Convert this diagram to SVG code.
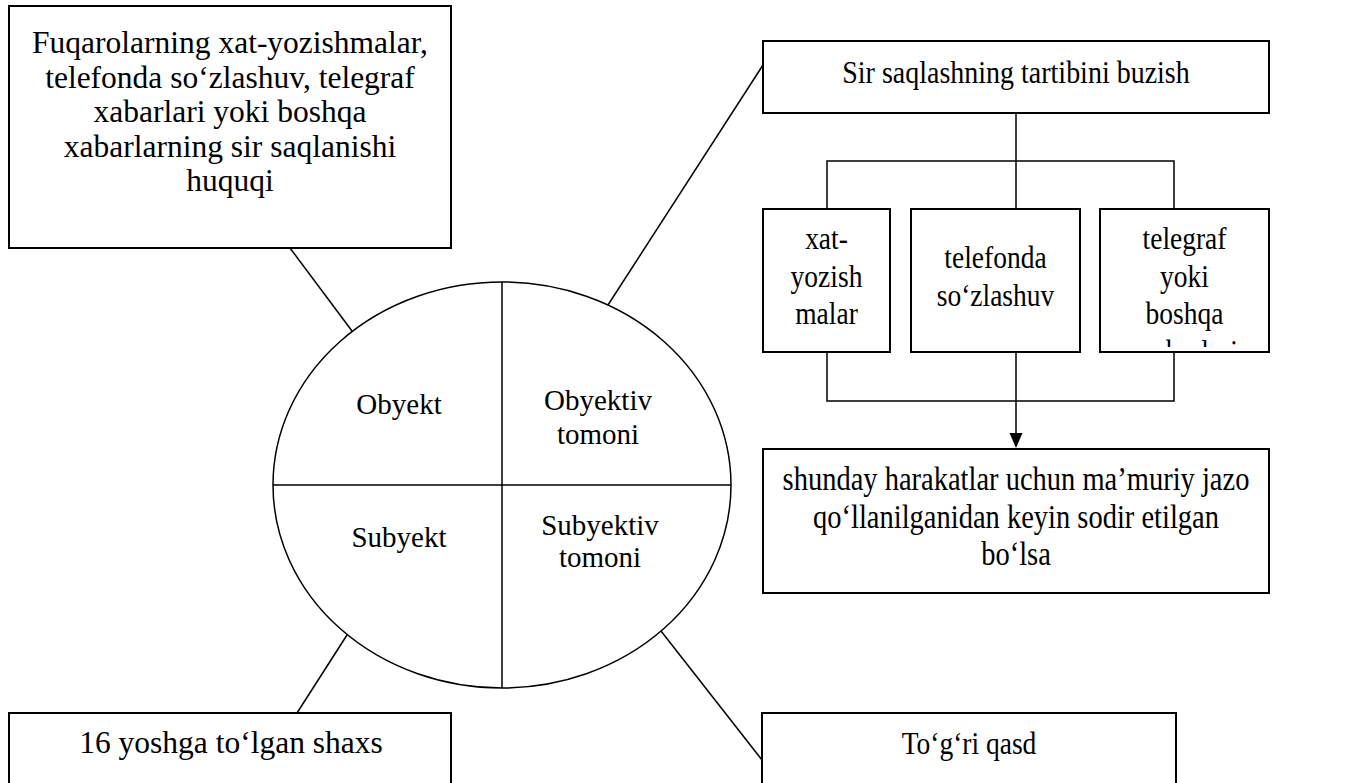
<svg xmlns="http://www.w3.org/2000/svg" width="1346" height="783" viewBox="0 0 1346 783">
<style>
.box{fill:#fff;stroke:#000;stroke-width:2}
.ln{fill:none;stroke:#000;stroke-width:1.5}
text{font-family:"Liberation Serif","Times New Roman",serif;fill:#000;text-anchor:middle}
</style>
<defs>
<clipPath id="clip3"><rect x="1100" y="209" width="169" height="138"/></clipPath>
</defs>
<rect width="1346" height="783" fill="#fff"/>
<g id="connectors">
<line class="ln" x1="290" y1="248" x2="352" y2="331"/>
<line class="ln" x1="608" y1="305" x2="763" y2="65"/>
<line class="ln" x1="347" y1="635" x2="297" y2="713"/>
<line class="ln" x1="661" y1="631" x2="762" y2="760"/>
<polyline class="ln" points="1016,113 1016,161"/>
<polyline class="ln" points="827,209 827,161 1174,161 1174,209"/>
<line class="ln" x1="1016" y1="161" x2="1016" y2="209"/>
<polyline class="ln" points="827,352 827,401 1174,401 1174,352"/>
<line class="ln" x1="1016" y1="352" x2="1016" y2="434"/>
<polygon points="1009.5,433 1022.5,433 1016,448" fill="#000"/>
</g>
<g id="circle">
<ellipse class="ln" cx="502" cy="485" rx="229" ry="203" fill="#fff"/>
<line class="ln" x1="502" y1="282" x2="502" y2="688"/>
<line class="ln" x1="273" y1="485" x2="731" y2="485"/>
<g font-size="29">
<text x="399" y="414">Obyekt</text>
<text x="598" y="410">Obyektiv</text>
<text x="598" y="444">tomoni</text>
<text x="399" y="547">Subyekt</text>
<text x="600" y="535">Subyektiv</text>
<text x="600" y="567">tomoni</text>
</g>
</g>
<g id="object-box">
<rect class="box" x="9" y="6" width="442" height="242"/>
<g font-size="31.5">
<text x="230" y="53">Fuqarolarning xat-yozishmalar,</text>
<text x="230" y="87.5">telefonda so‘zlashuv, telegraf</text>
<text x="230" y="122">xabarlari yoki boshqa</text>
<text x="230" y="156.5">xabarlarning sir saqlanishi</text>
<text x="230" y="191">huquqi</text>
</g>
</g>
<g id="violation-box">
<rect class="box" x="763" y="41" width="506" height="72"/>
<text transform="translate(1016,83) scale(1,1.15)" font-size="28">Sir saqlashning tartibini buzish</text>
</g>
<g id="letters-box">
<rect class="box" x="763" y="209" width="127" height="143"/>
<g font-size="27.5">
<text transform="translate(826.5,249) scale(1,1.15)">xat-</text>
<text transform="translate(826.5,286.5) scale(1,1.15)">yozish</text>
<text transform="translate(826.5,324) scale(1,1.15)">malar</text>
</g>
</g>
<g id="phone-box">
<rect class="box" x="911" y="209" width="169" height="143"/>
<g font-size="27.5">
<text transform="translate(995.5,268) scale(1,1.15)">telefonda</text>
<text transform="translate(995.5,306) scale(1,1.15)">so‘zlashuv</text>
</g>
</g>
<g id="telegraph-box">
<rect class="box" x="1100" y="209" width="169" height="143"/>
<g font-size="27.5" clip-path="url(#clip3)">
<text transform="translate(1184.5,249) scale(1,1.15)">telegraf</text>
<text transform="translate(1184.5,286.5) scale(1,1.15)">yoki</text>
<text transform="translate(1184.5,324) scale(1,1.15)">boshqa</text>
<text transform="translate(1189,362) scale(1,1.15)">xabarlari</text>
</g>
</g>
<g id="condition-box">
<rect class="box" x="763" y="449" width="506" height="144"/>
<g font-size="28.5">
<text transform="translate(1016,490) scale(1,1.15)">shunday harakatlar uchun ma’muriy jazo</text>
<text transform="translate(1016,527.5) scale(1,1.15)">qo‘llanilganidan keyin sodir etilgan</text>
<text transform="translate(1016,565) scale(1,1.15)">bo‘lsa</text>
</g>
</g>
<g id="subject-box">
<rect class="box" x="9" y="713" width="442" height="80"/>
<text x="231" y="753" font-size="31.5">16 yoshga to‘lgan shaxs</text>
</g>
<g id="intent-box">
<rect class="box" x="762" y="713" width="414" height="80"/>
<text transform="translate(969,754) scale(1,1.15)" font-size="27.5">To‘g‘ri qasd</text>
</g>
</svg>
